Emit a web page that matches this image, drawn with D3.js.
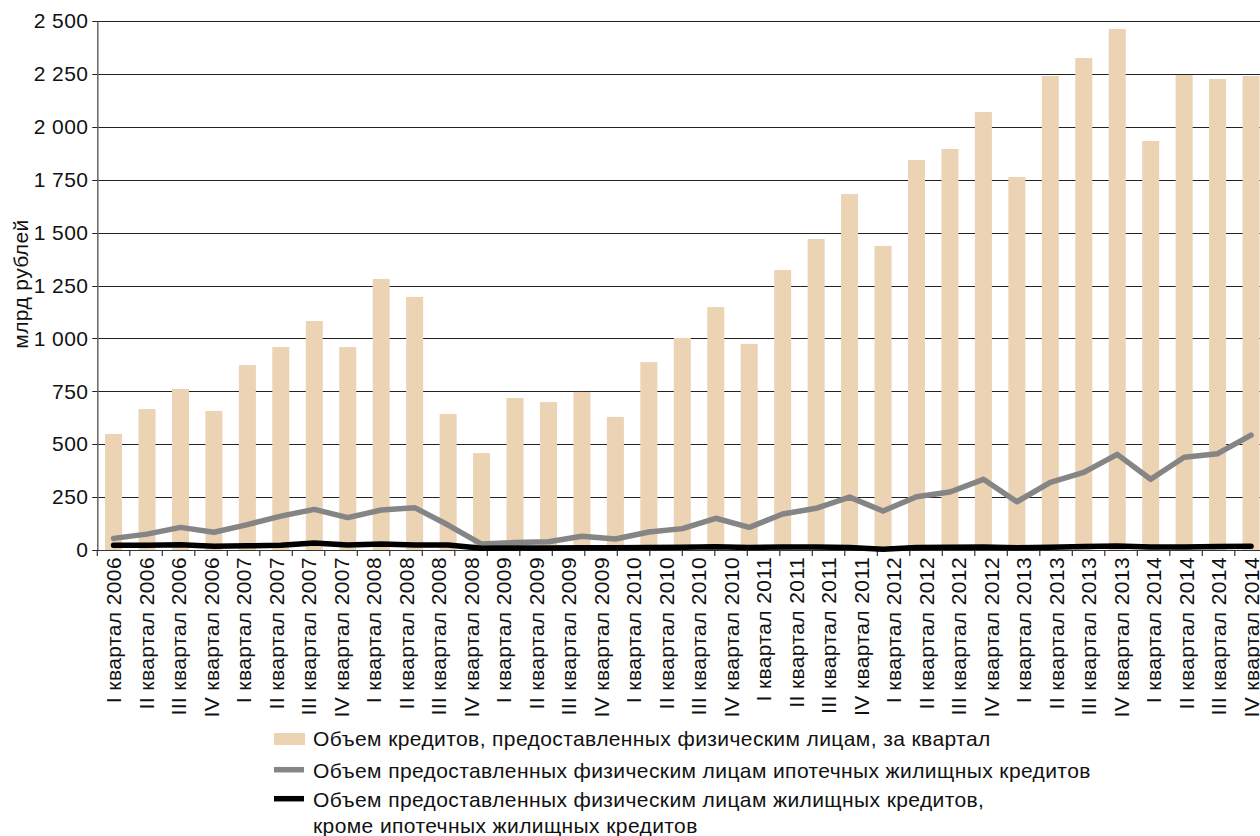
<!DOCTYPE html>
<html>
<head>
<meta charset="utf-8">
<script src="https://cdn.jsdelivr.net/npm/d3@7"></script>
<style>
  body { margin: 0; background: #fff; }
  svg { display: block; font-family: "Liberation Sans", Arial, sans-serif; }
  svg text { letter-spacing: 0.4px; }
</style>
</head>
<body>
<div id="chart"></div>
<script>
// quarter labels on the axis (36), data points (35)
var quarterLabels = [
	"I квартал 2006", "II квартал 2006", "III квартал 2006", "IV квартал 2006",
	"I квартал 2007", "II квартал 2007", "III квартал 2007", "IV квартал 2007",
	"I квартал 2008", "II квартал 2008", "III квартал 2008", "IV квартал 2008",
	"I квартал 2009", "II квартал 2009", "III квартал 2009", "IV квартал 2009",
	"I квартал 2010", "II квартал 2010", "III квартал 2010", "IV квартал 2010",
	"I квартал 2011", "II квартал 2011", "III квартал 2011", "IV квартал 2011",
	"I квартал 2012", "II квартал 2012", "III квартал 2012", "IV квартал 2012",
	"I квартал 2013", "II квартал 2013", "III квартал 2013", "IV квартал 2013",
	"I квартал 2014", "II квартал 2014", "III квартал 2014", "IV квартал 2014"
];

var loanVolume = [548, 666, 761, 657, 874, 959, 1082, 959, 1281, 1196, 643, 458,
	718, 699, 747, 629, 888, 1002, 1148, 974, 1323, 1470, 1682, 1437,
	1843, 1895, 2070, 1763, 2240, 2325, 2462, 1933, 2245, 2226, 2240];

var mortgageVolume = [55, 75, 107, 84, 120, 160, 192, 153, 189, 200, 118, 28,
	35, 39, 65, 52, 85, 101, 150, 107, 170, 197, 250, 184,
	252, 274, 334, 228, 320, 367, 452, 334, 438, 455, 543];

var otherHousingVolume = [22, 22, 25, 18, 20, 22, 33, 24, 28, 24, 24, 8,
	10, 10, 11, 11, 12, 13, 15, 12, 14, 14, 12, 4,
	12, 13, 14, 11, 13, 17, 19, 14, 14, 16, 18];

var yTicks = [0, 250, 500, 750, 1000, 1250, 1500, 1750, 2000, 2250, 2500];

var legendItems = [
	{ type: "bar", lines: ["Объем кредитов, предоставленных физическим лицам, за квартал"] },
	{ type: "gray", lines: ["Объем предоставленных физическим лицам ипотечных жилищных кредитов"] },
	{ type: "black", lines: ["Объем предоставленных физическим лицам жилищных кредитов,", "кроме ипотечных жилищных кредитов"] }
];

var W = 1260, H = 836;
var plotLeft = 97.3, plotBottom = 550, plotTop = 21;
var bandW = 32.5;
var fontSize = 21;
var barColor = "#EBD3B4", grayColor = "#858585";

var svg = d3.select("#chart").append("svg")
	.attr("width", W).attr("height", H);

var x = d3.scaleBand()
	.domain(quarterLabels)
	.range([plotLeft, plotLeft + bandW * quarterLabels.length]);

// the data points run from the first to the last label centre
var xp = d3.scalePoint()
	.domain(d3.range(loanVolume.length))
	.range([x(quarterLabels[0]) + x.bandwidth() / 2,
		x(quarterLabels[quarterLabels.length - 1]) + x.bandwidth() / 2]);

var y = d3.scaleLinear().domain([0, 2500]).range([plotBottom, plotTop]);

var ru = d3.formatLocale({ decimal: ",", thousands: "\u00a0", grouping: [3], currency: ["", ""] });
var fmt = ru.format(",");

// grid
svg.append("g").selectAll("line").data(yTicks).enter().append("line")
	.attr("x1", plotLeft - 5).attr("x2", W)
	.attr("y1", function(d) { return Math.round(y(d)) + 0.5; })
	.attr("y2", function(d) { return Math.round(y(d)) + 0.5; })
	.attr("stroke", "#222").attr("stroke-width", 1.2);

// bars
var barW = 17;
svg.append("g").selectAll("rect").data(loanVolume).enter().append("rect")
	.attr("x", function(d, i) { return xp(i) - barW / 2; })
	.attr("y", function(d) { return y(d); })
	.attr("width", barW)
	.attr("height", function(d) { return y(0) - y(d); })
	.attr("fill", barColor);

// y axis
var yAxis = d3.axisLeft(y).tickValues(yTicks).tickSize(0).tickPadding(9).tickFormat(fmt);
var gy = svg.append("g").attr("transform", "translate(" + plotLeft + ",0)").call(yAxis);
gy.select(".domain").attr("stroke", "#666").attr("stroke-width", 1.5);
gy.selectAll("text").attr("font-size", fontSize).attr("fill", "#111")
	.attr("font-family", "Liberation Sans, Arial, sans-serif");

// x axis: ticks at band edges
var edges = quarterLabels.map(function(q) { return x(q); }).concat([x.range()[1]]);
svg.append("g").selectAll("line").data(edges).enter().append("line")
	.attr("x1", function(d) { return d; }).attr("x2", function(d) { return d; })
	.attr("y1", plotBottom).attr("y2", plotBottom + 6)
	.attr("stroke", "#333").attr("stroke-width", 1.2);
svg.append("line").attr("x1", plotLeft).attr("x2", W)
	.attr("y1", plotBottom + 0.5).attr("y2", plotBottom + 0.5)
	.attr("stroke", "#333").attr("stroke-width", 1.2);

svg.append("g").selectAll("text").data(quarterLabels).enter().append("text")
	.attr("transform", function(d) {
		return "translate(" + (x(d) + x.bandwidth() / 2) + "," + (plotBottom + 7) + ") rotate(-90)";
	})
	.attr("text-anchor", "end")
	.attr("dy", "0.36em")
	.attr("font-size", fontSize)
	.attr("fill", "#111")
	.text(function(d) { return d; });

// lines
var lineGen = d3.line()
	.x(function(d, i) { return xp(i); })
	.y(function(d) { return y(d); });

svg.append("path").datum(mortgageVolume)
	.attr("d", lineGen)
	.attr("fill", "none").attr("stroke", grayColor).attr("stroke-width", 5.5)
	.attr("stroke-linejoin", "round").attr("stroke-linecap", "round");

svg.append("path").datum(otherHousingVolume)
	.attr("d", lineGen)
	.attr("fill", "none").attr("stroke", "#000").attr("stroke-width", 5.5)
	.attr("stroke-linejoin", "round").attr("stroke-linecap", "round");

// y title
svg.append("text")
	.attr("transform", "translate(28,284) rotate(-90)")
	.attr("text-anchor", "middle")
	.attr("font-size", fontSize)
	.attr("fill", "#111")
	.text("млрд рублей");

// legend
var legX = 274, textX = 313;
var rowBase = [746, 777.7, 806.7];
var legend = svg.append("g");
legendItems.forEach(function(item, i) {
	var b = rowBase[i];
	if (item.type === "bar") {
		legend.append("rect").attr("x", legX).attr("y", b - 13).attr("width", 31).attr("height", 12)
			.attr("fill", barColor);
	} else {
		legend.append("line").attr("x1", legX).attr("x2", legX + 30)
			.attr("y1", b - 8).attr("y2", b - 8)
			.attr("stroke", item.type === "gray" ? grayColor : "#000").attr("stroke-width", 5.5);
	}
	item.lines.forEach(function(t, j) {
		legend.append("text").attr("x", textX).attr("y", b + j * 26)
			.attr("font-size", fontSize).attr("fill", "#111").text(t);
	});
});
</script>
</body>
</html>
